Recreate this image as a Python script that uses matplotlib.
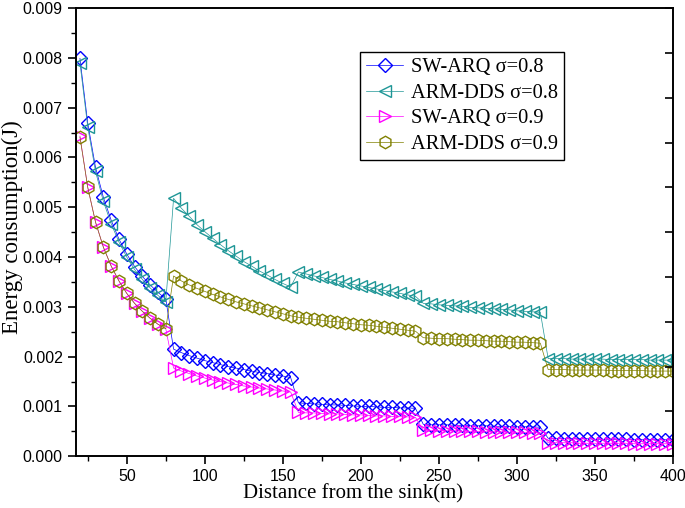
import numpy as np
import matplotlib
matplotlib.use("Agg")
import matplotlib.pyplot as plt
from matplotlib.ticker import MultipleLocator

## ---- data ----
x_seg1 = list(range(20, 80, 5))
x_seg2 = list(range(80, 160, 5))
x_seg3 = list(range(160, 240, 5))
x_seg4 = list(range(240, 320, 5))
x_seg5 = list(range(320, 405, 5))
distance = x_seg1 + x_seg2 + x_seg3 + x_seg4 + x_seg5

sw_arq_08 = [
    0.00799, 0.00669, 0.00580, 0.00520, 0.00474, 0.00436, 0.00406, 0.00381, 0.00361, 0.00344, 0.00329, 0.00316,
    0.00215, 0.00208, 0.00202, 0.00197, 0.00192, 0.00188, 0.00184, 0.00180, 0.00177, 0.00174, 0.00171, 0.00168,
    0.00166, 0.00163, 0.00161, 0.00158,
    0.00107, 0.00106, 0.00105, 0.00104, 0.00103, 0.00103, 0.00102, 0.00101, 0.00100, 0.00100, 0.00099, 0.00098,
    0.00098, 0.00097, 0.00097, 0.00096,
    0.00064, 0.00063, 0.00063, 0.00063, 0.00062, 0.00062, 0.00061, 0.00061, 0.00061, 0.00060, 0.00060, 0.00060,
    0.00059, 0.00059, 0.00059, 0.00058,
    0.00036, 0.00036, 0.00035, 0.00035, 0.00035, 0.00035, 0.00034, 0.00034, 0.00034, 0.00034, 0.00034, 0.00033,
    0.00033, 0.00033, 0.00033, 0.00033, 0.00032,
]

arm_dds_08 = [
    0.00790, 0.00661, 0.00572, 0.00512, 0.00467, 0.00430, 0.00400, 0.00375, 0.00355, 0.00338, 0.00323, 0.00310,
    0.00518, 0.00498, 0.00482, 0.00465, 0.00451, 0.00438, 0.00425, 0.00413, 0.00402, 0.00391, 0.00382, 0.00372,
    0.00364, 0.00355, 0.00347, 0.00340,
    0.00370, 0.00366, 0.00362, 0.00359, 0.00355, 0.00352, 0.00348, 0.00345, 0.00342, 0.00339, 0.00336, 0.00333,
    0.00330, 0.00327, 0.00324, 0.00321,
    0.00307, 0.00306, 0.00304, 0.00303, 0.00302, 0.00301, 0.00299, 0.00298, 0.00297, 0.00296, 0.00295, 0.00294,
    0.00292, 0.00291, 0.00290, 0.00289,
    0.00196, 0.00196, 0.00196, 0.00195, 0.00195, 0.00195, 0.00195, 0.00195, 0.00194, 0.00194, 0.00194, 0.00194,
    0.00194, 0.00193, 0.00193, 0.00193, 0.00193,
]

sw_arq_09 = [
    0.00643, 0.00540, 0.00470, 0.00420, 0.00382, 0.00352, 0.00327, 0.00307, 0.00291, 0.00277, 0.00265, 0.00256,
    0.00177, 0.00171, 0.00166, 0.00161, 0.00157, 0.00153, 0.00150, 0.00147, 0.00144, 0.00141, 0.00139, 0.00137,
    0.00135, 0.00133, 0.00131, 0.00129,
    0.00088, 0.00087, 0.00087, 0.00086, 0.00085, 0.00085, 0.00084, 0.00083, 0.00083, 0.00082, 0.00081, 0.00081,
    0.00080, 0.00080, 0.00079, 0.00078,
    0.00052, 0.00052, 0.00051, 0.00051, 0.00051, 0.00050, 0.00050, 0.00050, 0.00049, 0.00049, 0.00049, 0.00048,
    0.00048, 0.00048, 0.00047, 0.00047,
    0.00027, 0.00027, 0.00027, 0.00027, 0.00026, 0.00026, 0.00026, 0.00026, 0.00026, 0.00026, 0.00026, 0.00025,
    0.00025, 0.00025, 0.00025, 0.00025, 0.00025,
]

arm_dds_09 = [
    0.00641, 0.00540, 0.00470, 0.00420, 0.00382, 0.00352, 0.00327, 0.00307, 0.00291, 0.00277, 0.00265, 0.00256,
    0.00362, 0.00352, 0.00344, 0.00337, 0.00331, 0.00325, 0.00320, 0.00315, 0.00310, 0.00306, 0.00302, 0.00298,
    0.00294, 0.00290, 0.00286, 0.00282,
    0.00279, 0.00277, 0.00275, 0.00273, 0.00271, 0.00270, 0.00268, 0.00266, 0.00264, 0.00263, 0.00261, 0.00259,
    0.00257, 0.00255, 0.00253, 0.00251,
    0.00238, 0.00237, 0.00236, 0.00236, 0.00235, 0.00234, 0.00233, 0.00233, 0.00232, 0.00231, 0.00231, 0.00230,
    0.00229, 0.00229, 0.00228, 0.00227,
    0.00174, 0.00174, 0.00174, 0.00173, 0.00173, 0.00173, 0.00173, 0.00173, 0.00172, 0.00172, 0.00172, 0.00172,
    0.00172, 0.00171, 0.00171, 0.00171, 0.00171,
]

labels = ["SW-ARQ σ=0.8", "ARM-DDS σ=0.8", "SW-ARQ σ=0.9", "ARM-DDS σ=0.9"]
colors = ["#0000FF", "#1E9696", "#FF00FF", "#808000"]
markers = ["D", "<", ">", "h"]
msizes = [7, 9, 9, 9]

serif = ["Liberation Serif", "DejaVu Serif"]
sans = ["Liberation Sans", "DejaVu Sans"]

## ---- figure ----
fig = plt.figure(figsize=(6.85, 5.08), dpi=100)
ax = fig.add_axes([0.111, 0.102, 0.8715, 0.882])

for y, lab, c, m, ms in zip([sw_arq_08, arm_dds_08, sw_arq_09, arm_dds_09], labels, colors, markers, msizes):
    ax.plot(distance, y, color=c, lw=0.5, marker=m, ms=ms, mfc="none", mec=c, mew=1.0, label=lab)

ax.set_xlim(17.5, 400)
ax.set_ylim(0, 0.009)

ax.xaxis.set_major_locator(MultipleLocator(50))
ax.xaxis.set_minor_locator(MultipleLocator(25))
ax.yaxis.set_major_locator(MultipleLocator(0.001))
ax.yaxis.set_minor_locator(MultipleLocator(0.0005))
ax.yaxis.set_major_formatter(plt.FormatStrFormatter("%.3f"))

ax.tick_params(which="major", direction="out", length=6, width=1.2, labelsize=11.5)
ax.tick_params(which="minor", direction="out", length=3.5, width=1.0)
for t in ax.get_xticklabels() + ax.get_yticklabels():
    t.set_family(sans)

## right axis with its own inward ticks
ax_r = ax.twinx()
ax_r.set_ylim(0, 0.009)
ax_r.yaxis.set_major_locator(MultipleLocator(0.0009))
ax_r.tick_params(axis="y", direction="in", length=6, width=1.2, labelright=False)

for a in (ax, ax_r):
    for s in a.spines.values():
        s.set_linewidth(1.2)

ax.set_xlabel("Distance from the sink(m)", family=serif, fontsize=15, labelpad=0, x=0.464)
ax.set_ylabel("Energy consumption(J)", family=serif, fontsize=16.5, labelpad=0, y=0.511)

leg = ax.legend(loc="upper left", bbox_to_anchor=(0.476, 0.902), prop={"family": serif, "size": 14.7},
                fancybox=False, edgecolor="black", framealpha=1, handlelength=1.8,
                labelspacing=0.3, borderpad=0.3, handletextpad=0.4, borderaxespad=0)
leg.get_frame().set_linewidth(1.0)

fig.savefig("out.png", dpi=100)
